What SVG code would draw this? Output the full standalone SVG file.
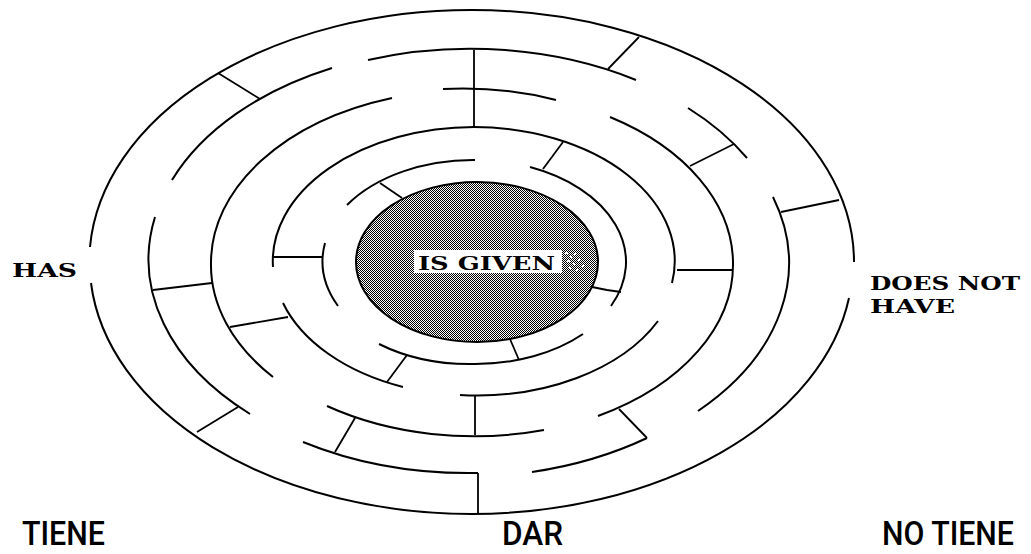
<svg xmlns="http://www.w3.org/2000/svg" width="1031" height="554" viewBox="0 0 1031 554">
  <style>
    .wall { fill: none; stroke: #000; stroke-width: 2; stroke-linecap: butt; }
    .spoke { fill: none; stroke: #000; stroke-width: 1.8; }
    .lbl { font-family: "DejaVu Serif", "Liberation Serif", serif; font-weight: bold; fill: #000; }
    .bottom { font-family: Roboto, "Liberation Sans", sans-serif; font-weight: 500; fill: #000; font-size: 34px; }
  </style>
  <defs>
    <pattern id="dither" width="2" height="2" patternUnits="userSpaceOnUse">
      <rect width="2" height="2" fill="#fff"/>
      <rect width="1" height="1" fill="#000"/>
      <rect x="1" y="1" width="1" height="1" fill="#000"/>
    </pattern>
  </defs>
  <rect width="1031" height="554" fill="#fff"/>

  <g id="center">
    <ellipse cx="477" cy="262" rx="121" ry="80" fill="url(#dither)" stroke="#000" stroke-width="2"/>
    <rect x="414" y="250" width="148" height="23" fill="#fff"/>
    <g fill="#fff">
      <rect x="565" y="252" width="3" height="2"/>
      <rect x="570" y="256" width="2" height="2"/>
      <rect x="574" y="253" width="2" height="2"/>
      <rect x="567" y="260" width="3" height="2"/>
      <rect x="573" y="263" width="2" height="2"/>
      <rect x="578" y="259" width="2" height="2"/>
      <rect x="569" y="267" width="2" height="2"/>
      <rect x="576" y="269" width="2" height="2"/>
      <rect x="582" y="265" width="2" height="2"/>
    </g>
    <text class="lbl" x="418" y="270" font-size="18" textLength="137" lengthAdjust="spacingAndGlyphs">IS GIVEN</text>
  </g>

  <g id="rings">
    <g id="ring1">
      <path class="wall" d="M 90,247 A 382 252 0 0 1 472,10 A 382 252 0 0 1 854,262"/>
      <path class="wall" d="M 849,298 A 382 252 0 0 1 472,514 A 382 252 0 0 1 91,283"/>
    </g>
    <g id="ring2">
      <path class="wall" d="M 172,180 A 317 211 0 0 1 332,68"/>
      <path class="wall" d="M 368,60 A 317 211 0 0 1 636,80"/>
      <path class="wall" d="M 688,108 A 317 211 0 0 1 747,158"/>
      <path class="wall" d="M 773,197 A 317 211 0 0 1 698,411"/>
      <path class="wall" d="M 647,438 A 317 211 0 0 1 532,472"/>
      <path class="wall" d="M 478,473 A 317 211 0 0 1 303,442"/>
      <path class="wall" d="M 250,414 A 317 211 0 0 1 155,217"/>
    </g>
    <g id="ring3">
      <path class="wall" d="M 273,377 A 261 173 0 0 1 211,262 A 261 173 0 0 1 392,98"/>
      <path class="wall" d="M 443,89 A 261 173 0 0 1 556,100"/>
      <path class="wall" d="M 610,117 A 261 173 0 0 1 733,262 A 261 173 0 0 1 598,416"/>
      <path class="wall" d="M 544,430 A 261 173 0 0 1 327,406"/>
    </g>
    <g id="ring4">
      <path class="wall" d="M 273,267 A 202 134 0 0 1 474,127 A 202 134 0 0 1 672,283"/>
      <path class="wall" d="M 658,321 A 202 134 0 0 1 460,395"/>
      <path class="wall" d="M 403,387 A 202 134 0 0 1 283,303"/>
    </g>
    <g id="ring5">
      <path class="wall" d="M 347,205 A 152 102 0 0 1 475,160"/>
      <path class="wall" d="M 530,167 A 152 102 0 0 1 611,306"/>
      <path class="wall" d="M 583,334 A 152 102 0 0 1 475,364 A 152 102 0 0 1 379,344"/>
      <path class="wall" d="M 338,306 A 152 102 0 0 1 325,243"/>
    </g>
  </g>

  <g id="connectors">
    <path class="spoke" d="M 218,73 L 260,99"/>
    <path class="spoke" d="M 639,37 L 608,69"/>
    <path class="spoke" d="M 839,200 L 781,212"/>
    <path class="spoke" d="M 197,432 L 238,407"/>
    <path class="spoke" d="M 478,473 L 478,514"/>
    <path class="spoke" d="M 474,50 L 474,127"/>
    <path class="spoke" d="M 153,290 L 212,283"/>
    <path class="spoke" d="M 690,166 L 734,144"/>
    <path class="spoke" d="M 619,409 L 647,438"/>
    <path class="spoke" d="M 355,418 L 335,452"/>
    <path class="spoke" d="M 230,327 L 288,317"/>
    <path class="spoke" d="M 677,270 L 733,270"/>
    <path class="spoke" d="M 475,395 L 475,435"/>
    <path class="spoke" d="M 273,257 L 323,257"/>
    <path class="spoke" d="M 563,142 L 543,169"/>
    <path class="spoke" d="M 387,382 L 407,355"/>
    <path class="spoke" d="M 380,183 L 402,198"/>
    <path class="spoke" d="M 621,292 L 607,290 L 592,287"/>
    <path class="spoke" d="M 519,360 L 510,339"/>
  </g>

  <g id="labels">
    <text class="lbl" x="12" y="277" font-size="19" textLength="65" lengthAdjust="spacingAndGlyphs">HAS</text>
    <text class="lbl" x="870" y="290" font-size="18" textLength="150" lengthAdjust="spacingAndGlyphs">DOES NOT</text>
    <text class="lbl" x="870" y="313" font-size="18" textLength="85" lengthAdjust="spacingAndGlyphs">HAVE</text>
    <text class="bottom" x="22" y="545" textLength="83" lengthAdjust="spacingAndGlyphs">TIENE</text>
    <text class="bottom" x="502" y="545" textLength="61" lengthAdjust="spacingAndGlyphs">DAR</text>
    <text class="bottom" x="882" y="545" textLength="132" lengthAdjust="spacingAndGlyphs">NO TIENE</text>
  </g>
</svg>
